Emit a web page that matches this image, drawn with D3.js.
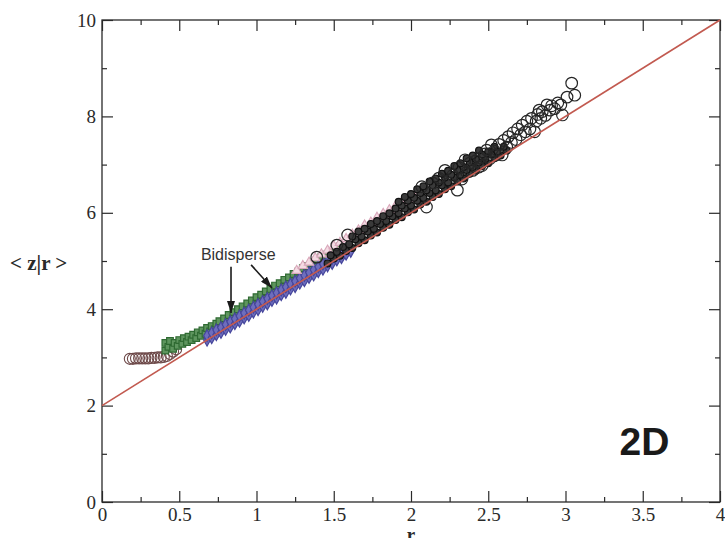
<!DOCTYPE html>
<html>
<head>
<meta charset="utf-8">
<script src="https://cdn.jsdelivr.net/npm/d3@7"></script>
<style>
  html, body { margin: 0; padding: 0; background: #fff; }
  svg { display: block; }
</style>
</head>
<body>
<svg id="chart" width="725" height="538"></svg>
<script>
// Axis ticks
const xMajorTicks = [0, 0.5, 1, 1.5, 2, 2.5, 3, 3.5, 4];
const xMinorTicks = [0.25, 0.75, 1.25, 1.75, 2.25, 2.75, 3.25, 3.75];
const yMajorTicks = [0, 2, 4, 6, 8, 10];
const yMinorTicks = [1, 3, 5, 7, 9];

// Reference line <z|r> = 2 + 2r
const fitLine = [[0, 2], [4, 10]];

// Smallest packings: flat row near z = 3
const rowSmall = [
  [0.18, 2.97], [0.20, 2.97], [0.22, 2.98], [0.24, 2.98], [0.26, 2.98], [0.28, 2.98],
  [0.30, 2.98], [0.32, 2.99], [0.34, 2.99], [0.36, 3.00], [0.38, 3.00], [0.40, 3.01],
  [0.42, 3.03], [0.44, 3.07], [0.46, 3.12], [0.48, 3.17]
];

// Bidisperse packings, green series
const greenSeries = [
  [0.41, 3.14], [0.41, 3.30], [0.43, 3.22], [0.44, 3.34], [0.46, 3.18], [0.47, 3.30],
  [0.49, 3.24], [0.50, 3.36], [0.52, 3.28], [0.53, 3.40], [0.55, 3.32], [0.56, 3.43],
  [0.58, 3.36], [0.59, 3.47], [0.61, 3.40], [0.62, 3.52], [0.64, 3.45], [0.65, 3.56],
  [0.67, 3.49], [0.68, 3.61], [0.70, 3.54], [0.71, 3.65], [0.73, 3.58], [0.74, 3.70],
  [0.76, 3.62], [0.76, 3.75], [0.79, 3.68], [0.79, 3.81], [0.82, 3.75], [0.82, 3.88],
  [0.85, 3.80], [0.85, 3.94], [0.88, 3.86], [0.88, 4.00], [0.91, 3.93], [0.91, 4.06],
  [0.94, 3.98], [0.94, 4.12], [0.97, 4.05], [0.97, 4.18], [1.00, 4.10], [1.00, 4.25],
  [1.03, 4.17], [1.03, 4.30], [1.06, 4.22], [1.06, 4.37], [1.09, 4.29], [1.09, 4.42],
  [1.12, 4.34], [1.12, 4.49], [1.15, 4.41], [1.15, 4.54], [1.18, 4.46], [1.18, 4.61],
  [1.21, 4.53], [1.21, 4.66], [1.24, 4.58], [1.24, 4.73], [1.27, 4.65], [1.27, 4.78],
  [1.30, 4.70], [1.30, 4.85], [1.33, 4.77], [1.33, 4.90], [1.36, 4.82], [1.36, 4.97],
  [1.39, 4.89], [1.39, 5.02], [1.42, 4.94], [1.42, 5.08], [1.45, 5.01], [1.45, 5.13],
  [1.48, 5.06], [1.48, 5.18], [1.51, 5.13], [1.51, 5.24], [1.54, 5.18], [1.54, 5.30],
  [1.57, 5.25], [1.60, 5.30]
];

// Bidisperse packings, blue series
const blueSeries = [
  [0.68, 3.36], [0.68, 3.45], [0.71, 3.41], [0.71, 3.51], [0.74, 3.47], [0.74, 3.57],
  [0.77, 3.52], [0.77, 3.62], [0.80, 3.58], [0.80, 3.68], [0.83, 3.63], [0.83, 3.74],
  [0.86, 3.70], [0.86, 3.80], [0.89, 3.75], [0.89, 3.86], [0.92, 3.82], [0.92, 3.92],
  [0.95, 3.87], [0.95, 3.98], [0.98, 3.94], [0.98, 4.04], [1.01, 3.99], [1.01, 4.10],
  [1.04, 4.06], [1.04, 4.16], [1.07, 4.11], [1.07, 4.22], [1.10, 4.18], [1.10, 4.28],
  [1.13, 4.23], [1.13, 4.34], [1.16, 4.30], [1.16, 4.40], [1.19, 4.35], [1.19, 4.46],
  [1.22, 4.42], [1.22, 4.52], [1.25, 4.47], [1.25, 4.58], [1.28, 4.54], [1.28, 4.64],
  [1.31, 4.59], [1.31, 4.70], [1.34, 4.66], [1.34, 4.76], [1.37, 4.71], [1.37, 4.82],
  [1.40, 4.78], [1.40, 4.88], [1.43, 4.83], [1.43, 4.94], [1.46, 4.90], [1.46, 5.00],
  [1.49, 4.95], [1.49, 5.06], [1.52, 5.02], [1.52, 5.12], [1.55, 5.07], [1.55, 5.18],
  [1.58, 5.14], [1.58, 5.24], [1.61, 5.20]
];

// Pink series, upper edge of the band
const pinkSeries = [
  [1.26, 4.80], [1.30, 4.90], [1.34, 4.97], [1.38, 5.06], [1.42, 5.14], [1.46, 5.22],
  [1.48, 5.14], [1.50, 5.31], [1.54, 5.38], [1.56, 5.30], [1.58, 5.46], [1.62, 5.55],
  [1.64, 5.46], [1.66, 5.64], [1.70, 5.74], [1.72, 5.62], [1.74, 5.80], [1.78, 5.90],
  [1.80, 5.78], [1.82, 5.98], [1.86, 6.06], [1.88, 5.94], [1.90, 6.14], [1.94, 6.22],
  [1.96, 6.12], [1.98, 6.28], [2.02, 6.34]
];

// Dense dark series
const darkSeries = [
  [1.46, 4.95], [1.50, 5.05], [1.54, 5.11], [1.58, 5.21], [1.62, 5.27], [1.66, 5.37],
  [1.70, 5.43], [1.74, 5.53], [1.78, 5.59], [1.82, 5.69], [1.86, 5.75], [1.90, 5.85],
  [1.94, 5.91], [1.98, 6.01], [2.02, 6.07], [2.06, 6.17], [2.10, 6.23], [2.14, 6.33],
  [2.18, 6.39], [2.22, 6.49], [2.26, 6.55], [2.30, 6.65], [2.34, 6.71], [2.38, 6.81],
  [2.42, 6.87], [2.46, 6.97], [2.50, 7.03], [2.54, 7.13], [2.58, 7.19], [2.62, 7.29],
  [1.48, 5.12], [1.52, 5.19], [1.56, 5.29], [1.60, 5.35], [1.64, 5.45], [1.68, 5.51],
  [1.72, 5.61], [1.76, 5.67], [1.80, 5.77], [1.84, 5.83], [1.88, 5.93], [1.92, 5.99],
  [1.96, 6.09], [2.00, 6.15], [2.04, 6.25], [2.08, 6.31], [2.12, 6.41], [2.16, 6.47],
  [2.20, 6.57], [2.24, 6.63], [2.28, 6.73], [2.32, 6.79], [2.36, 6.89], [2.40, 6.95],
  [2.44, 7.05], [2.48, 7.11], [2.52, 7.21], [2.56, 7.27], [2.60, 7.37],
  [1.62, 5.51], [1.66, 5.61], [1.70, 5.67], [1.74, 5.77], [1.78, 5.83], [1.82, 5.93],
  [1.86, 5.99], [1.90, 6.09], [1.94, 6.15], [1.98, 6.25], [2.02, 6.31], [2.06, 6.41],
  [2.10, 6.47], [2.14, 6.57], [2.18, 6.63], [2.22, 6.73], [2.26, 6.79], [2.30, 6.89],
  [2.34, 6.95], [2.38, 7.05], [2.42, 7.11], [2.46, 7.21], [2.50, 7.27], [2.54, 7.37],
  [1.92, 6.23], [1.96, 6.33], [2.00, 6.39], [2.04, 6.49], [2.08, 6.55], [2.12, 6.65],
  [2.16, 6.71], [2.20, 6.81], [2.24, 6.87], [2.28, 6.97], [2.32, 7.03], [2.36, 7.13],
  [2.40, 7.19], [2.44, 7.29]
];

// Large open circles
const circleSeries = [
  [1.39, 5.08], [1.52, 5.33], [1.59, 5.54], [2.07, 6.54], [2.14, 6.62], [2.10, 6.12],
  [2.18, 6.72], [2.22, 6.88], [2.25, 6.62], [2.31, 6.94], [2.35, 7.10], [2.44, 6.95],
  [2.30, 6.47], [2.27, 6.78], [2.33, 6.70], [2.36, 6.84], [2.38, 7.03], [2.40, 6.88],
  [2.42, 7.08], [2.45, 7.14], [2.46, 6.98], [2.48, 7.22], [2.49, 7.30], [2.51, 7.12],
  [2.52, 7.41], [2.54, 7.28], [2.55, 7.20], [2.57, 7.42], [2.59, 7.20], [2.60, 7.50],
  [2.62, 7.36], [2.63, 7.58], [2.65, 7.46], [2.66, 7.66], [2.68, 7.52], [2.69, 7.74],
  [2.71, 7.62], [2.72, 7.82], [2.74, 7.68], [2.75, 7.90], [2.77, 7.74], [2.78, 7.96],
  [2.80, 7.68], [2.81, 7.90], [2.82, 8.04], [2.83, 8.13], [2.84, 7.96], [2.85, 8.10],
  [2.87, 8.02], [2.88, 8.24], [2.90, 8.13], [2.91, 8.22], [2.93, 8.16], [2.95, 8.28],
  [2.97, 8.24], [2.98, 8.03], [3.01, 8.40], [3.04, 8.69], [3.06, 8.44]
];

const svg = d3.select("#chart");
const x = d3.scaleLinear().domain([0, 4]).range([102, 720]);
const y = d3.scaleLinear().domain([0, 10]).range([502, 20]);

const serif = "'Liberation Serif', 'Times New Roman', serif";
const sans = "'Liberation Sans', Arial, Helvetica, sans-serif";
const ink = "#2a2a2a";

// Axes: major and minor ticks pointing inward on all four sides
function styleAxis(g) {
  g.select(".domain").remove();
  g.selectAll(".tick line").attr("stroke", ink).attr("stroke-width", 1.2);
  g.selectAll(".tick text").attr("fill", ink).style("font-family", serif).style("font-size", "19px");
}
const H = 502, L = 102, R = 720, T = 20;

svg.append("g").attr("transform", `translate(0,${H})`)
  .call(d3.axisBottom(x).tickValues(xMajorTicks).tickSize(-11).tickPadding(6).tickFormat(d => String(d)))
  .call(styleAxis);
svg.append("g").attr("transform", `translate(0,${H})`)
  .call(d3.axisBottom(x).tickValues(xMinorTicks).tickSize(-5).tickFormat(""))
  .call(styleAxis);
svg.append("g").attr("transform", `translate(0,${T})`)
  .call(d3.axisTop(x).tickValues(xMajorTicks).tickSize(-11).tickFormat(""))
  .call(styleAxis);
svg.append("g").attr("transform", `translate(0,${T})`)
  .call(d3.axisTop(x).tickValues(xMinorTicks).tickSize(-5).tickFormat(""))
  .call(styleAxis);
svg.append("g").attr("transform", `translate(${L},0)`)
  .call(d3.axisLeft(y).tickValues(yMajorTicks).tickSize(-11).tickPadding(6).tickFormat(d => String(d)))
  .call(styleAxis);
svg.append("g").attr("transform", `translate(${L},0)`)
  .call(d3.axisLeft(y).tickValues(yMinorTicks).tickSize(-5).tickFormat(""))
  .call(styleAxis);
svg.append("g").attr("transform", `translate(${R},0)`)
  .call(d3.axisRight(y).tickValues(yMajorTicks).tickSize(-11).tickFormat(""))
  .call(styleAxis);
svg.append("g").attr("transform", `translate(${R},0)`)
  .call(d3.axisRight(y).tickValues(yMinorTicks).tickSize(-5).tickFormat(""))
  .call(styleAxis);

// Frame
svg.append("rect")
  .attr("x", L).attr("y", T).attr("width", R - L).attr("height", H - T)
  .attr("fill", "none").attr("stroke", ink).attr("stroke-width", 1.3);

// Scatter series
const plot = svg.append("g");

function drawSymbols(data, type, size, fill, stroke, width) {
  const sym = d3.symbol().type(type).size(size);
  plot.append("g").selectAll("path").data(data).join("path")
    .attr("transform", d => `translate(${x(d[0])},${y(d[1])})`)
    .attr("d", sym)
    .attr("fill", fill)
    .attr("stroke", stroke)
    .attr("stroke-width", width);
}
function drawCircles(data, radius, fill, stroke, width) {
  plot.append("g").selectAll("circle").data(data).join("circle")
    .attr("cx", d => x(d[0])).attr("cy", d => y(d[1]))
    .attr("r", radius)
    .attr("fill", fill)
    .attr("stroke", stroke)
    .attr("stroke-width", width);
}

drawCircles(rowSmall, 5.5, "none", "#6e4a4a", 1.1);
drawSymbols(greenSeries, d3.symbolSquare, 44, "#5e955e", "#2f6a32", 1.2);
drawSymbols(blueSeries, d3.symbolDiamond, 40, "#6e6ebd", "#46469c", 1.2);
drawSymbols(pinkSeries, d3.symbolTriangle, 38, "#f3dbe3", "#d9a7ba", 1.1);
drawCircles(darkSeries, 3.4, "#3a3a3a", "#111", 1.2);
drawCircles(circleSeries, 5.8, "none", "#262626", 1.2);

// Fit line
svg.append("path")
  .datum(fitLine)
  .attr("d", d3.line().x(d => x(d[0])).y(d => y(d[1])))
  .attr("fill", "none")
  .attr("stroke", "#c25a50")
  .attr("stroke-width", 1.6);

// Annotation with arrows
const defs = svg.append("defs");
defs.append("marker")
  .attr("id", "head").attr("viewBox", "0 0 12 8")
  .attr("refX", 12).attr("refY", 4)
  .attr("markerWidth", 12).attr("markerHeight", 8)
  .attr("markerUnits", "userSpaceOnUse")
  .attr("orient", "auto")
  .append("path").attr("d", "M0,0 L12,4 L0,8 Z").attr("fill", "#1a1a1a");

const arrows = [
  [[0.835, 4.88], [0.835, 3.92]],
  [[0.965, 4.92], [1.10, 4.44]]
];
svg.append("g").selectAll("line").data(arrows).join("line")
  .attr("x1", d => x(d[0][0])).attr("y1", d => y(d[0][1]))
  .attr("x2", d => x(d[1][0])).attr("y2", d => y(d[1][1]))
  .attr("stroke", "#1a1a1a").attr("stroke-width", 1.6)
  .attr("marker-end", "url(#head)");

svg.append("text")
  .attr("x", x(0.64)).attr("y", y(5.02))
  .style("font-family", sans).style("font-size", "16px")
  .attr("fill", "#333")
  .text("Bidisperse");

// Panel tag
svg.append("text")
  .attr("x", x(3.35)).attr("y", y(0.975))
  .style("font-family", sans).style("font-size", "39px").style("font-weight", "bold")
  .attr("fill", "#1a1a1a")
  .text("2D");

// Axis titles
svg.append("text")
  .attr("x", 10).attr("y", 270)
  .style("font-family", serif).style("font-size", "21px").style("font-weight", "bold")
  .attr("fill", ink)
  .text("< z|r >");
svg.append("text")
  .attr("x", x(2)).attr("y", 541)
  .attr("text-anchor", "middle")
  .style("font-family", serif).style("font-size", "19px").style("font-weight", "bold")
  .attr("fill", ink)
  .text("r");
</script>
</body>
</html>
